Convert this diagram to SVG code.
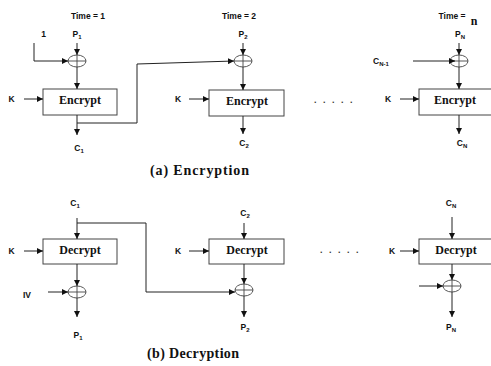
<svg xmlns="http://www.w3.org/2000/svg" width="491" height="366" viewBox="0 0 491 366">
<style>
.ln{fill:none;stroke:#222;stroke-width:1}
.bx{fill:#fff;stroke:#444;stroke-width:1}
.xr{fill:none;stroke:#444;stroke-width:0.9}
.lb{font-family:"Liberation Sans",Arial,sans-serif;font-weight:bold;font-size:8.5px;fill:#111;text-anchor:middle}
.bt{font-family:"Liberation Serif","Times New Roman",serif;font-weight:bold;font-size:12px;fill:#111;text-anchor:middle}
.cap{font-family:"Liberation Serif","Times New Roman",serif;font-weight:bold;font-size:14px;fill:#111}
.dot{font-family:"Liberation Sans",Arial,sans-serif;font-weight:bold;font-size:9px;fill:#333}
.sb{font-size:6px}
</style>
<defs>
<marker id="ah" markerWidth="6" markerHeight="6" refX="6" refY="3" orient="auto" markerUnits="userSpaceOnUse">
<path d="M0,0 L6,3 L0,6 Z" fill="#111"/>
</marker>
<g id="xor"><ellipse cx="0" cy="0" rx="9" ry="6" class="xr"/><line x1="-9" y1="0" x2="9" y2="0" class="xr"/><line x1="0" y1="-6" x2="0" y2="6" class="xr"/></g>
</defs>
<rect width="491" height="366" fill="#fff"/>

<!-- Encryption -->
<g id="time1"><text class="lb" x="88" y="19">Time = 1</text></g>
<g id="time2"><text class="lb" x="239" y="19">Time = 2</text></g>
<g id="timen"><text class="lb" x="452" y="19">Time =</text><text x="474" y="25" font-family="Liberation Serif,serif" font-weight="bold" font-size="12" text-anchor="middle" fill="#111">n</text></g>

<g id="e-in1"><text class="lb" x="43.5" y="37">1</text></g>
<g id="e-p1"><text class="lb" x="77" y="37">P<tspan class="sb" dy="1.5">1</tspan></text></g>
<g id="e-xor1"><use href="#xor" x="77" y="61"/></g>
<g id="e-enc1"><rect class="bx" x="43" y="89" width="74" height="26"/><text class="bt" x="80" y="104">Encrypt</text></g>
<g id="e-k1"><text class="lb" x="11.5" y="102">K</text></g>
<g id="e-c1"><text class="lb" x="79" y="151">C<tspan class="sb" dy="1.5">1</tspan></text></g>

<g id="e-p2"><text class="lb" x="243" y="37">P<tspan class="sb" dy="1.5">2</tspan></text></g>
<g id="e-xor2"><use href="#xor" x="243" y="61"/></g>
<g id="e-enc2"><rect class="bx" x="209" y="90" width="75" height="26"/><text class="bt" x="247" y="105">Encrypt</text></g>
<g id="e-k2"><text class="lb" x="178" y="102">K</text></g>
<g id="e-c2"><text class="lb" x="244" y="146">C<tspan class="sb" dy="1.5">2</tspan></text></g>

<g id="e-dots"><text class="dot" x="314" y="103" letter-spacing="6.5">.....</text></g>

<g id="e-cn1"><text class="lb" x="381" y="64">C<tspan class="sb" dy="1.5">N-1</tspan></text></g>
<g id="e-pn"><text class="lb" x="460" y="37">P<tspan class="sb" dy="1.5">N</tspan></text></g>
<g id="e-xorn"><use href="#xor" x="459" y="61"/></g>
<g id="e-encn"><rect class="bx" x="419" y="89" width="76" height="26"/><text class="bt" x="455" y="104">Encrypt</text></g>
<g id="e-kn"><text class="lb" x="388" y="102">K</text></g>
<g id="e-cn"><text class="lb" x="462" y="146">C<tspan class="sb" dy="1.5">N</tspan></text></g>

<g id="cap-a"><text class="cap" x="150" y="175" textLength="99">(a) Encryption</text></g>

<!-- Decryption -->
<g id="d-c1"><text class="lb" x="75" y="206">C<tspan class="sb" dy="1.5">1</tspan></text></g>
<g id="d-dec1"><rect class="bx" x="43" y="239" width="74" height="25"/><text class="bt" x="80" y="254">Decrypt</text></g>
<g id="d-k1"><text class="lb" x="11.5" y="254">K</text></g>
<g id="d-iv"><text class="lb" x="27" y="298">IV</text></g>
<g id="d-xor1"><use href="#xor" x="77" y="292"/></g>
<g id="d-p1"><text class="lb" x="78" y="338">P<tspan class="sb" dy="1.5">1</tspan></text></g>

<g id="d-c2"><text class="lb" x="245" y="216">C<tspan class="sb" dy="1.5">2</tspan></text></g>
<g id="d-dec2"><rect class="bx" x="209" y="239" width="75" height="25"/><text class="bt" x="247" y="254">Decrypt</text></g>
<g id="d-k2"><text class="lb" x="178" y="254">K</text></g>
<g id="d-xor2"><use href="#xor" x="244" y="290"/></g>
<g id="d-p2"><text class="lb" x="245" y="330">P<tspan class="sb" dy="1.5">2</tspan></text></g>

<g id="d-dots"><text class="dot" x="320" y="253" letter-spacing="6.5">.....</text></g>

<g id="d-cn"><text class="lb" x="451" y="206">C<tspan class="sb" dy="1.5">N</tspan></text></g>
<g id="d-decn"><rect class="bx" x="419" y="239" width="76" height="25"/><text class="bt" x="456" y="254">Decrypt</text></g>
<g id="d-kn"><text class="lb" x="392" y="254">K</text></g>
<g id="d-xorn"><use href="#xor" x="452" y="286"/></g>
<g id="d-pn"><text class="lb" x="451" y="330">P<tspan class="sb" dy="1.5">N</tspan></text></g>

<g id="cap-b"><text class="cap" x="147" y="358" textLength="92">(b) Decryption</text></g>

<g id="connectors">
<!-- encryption col 1 -->
<polyline class="ln" points="34,43 34,61 68,61" marker-end="url(#ah)"/>
<line class="ln" x1="77" y1="43" x2="77" y2="55" marker-end="url(#ah)"/>
<line class="ln" x1="77" y1="67" x2="77" y2="89" marker-end="url(#ah)"/>
<line class="ln" x1="24" y1="99" x2="43" y2="99" marker-end="url(#ah)"/>
<line class="ln" x1="77" y1="115" x2="77" y2="135" marker-end="url(#ah)"/>
<polyline class="ln" points="77,123 137,123 137,64 234,61" marker-end="url(#ah)"/>
<!-- encryption col 2 -->
<line class="ln" x1="243" y1="43" x2="243" y2="55" marker-end="url(#ah)"/>
<line class="ln" x1="243" y1="67" x2="243" y2="90" marker-end="url(#ah)"/>
<line class="ln" x1="189" y1="99" x2="209" y2="99" marker-end="url(#ah)"/>
<line class="ln" x1="243" y1="116" x2="243" y2="134" marker-end="url(#ah)"/>
<!-- encryption col N -->
<line class="ln" x1="459" y1="43" x2="459" y2="55" marker-end="url(#ah)"/>
<line class="ln" x1="413" y1="61" x2="455" y2="61" marker-end="url(#ah)"/>
<line class="ln" x1="459" y1="67" x2="459" y2="89" marker-end="url(#ah)"/>
<line class="ln" x1="400" y1="99" x2="419" y2="99" marker-end="url(#ah)"/>
<line class="ln" x1="459" y1="115" x2="459" y2="134" marker-end="url(#ah)"/>
<!-- decryption col 1 -->
<line class="ln" x1="77" y1="218" x2="77" y2="239" marker-end="url(#ah)"/>
<line class="ln" x1="24" y1="251" x2="43" y2="251" marker-end="url(#ah)"/>
<line class="ln" x1="77" y1="264" x2="77" y2="286" marker-end="url(#ah)"/>
<line class="ln" x1="48" y1="292" x2="68" y2="292" marker-end="url(#ah)"/>
<line class="ln" x1="77" y1="298" x2="77" y2="317" marker-end="url(#ah)"/>
<polyline class="ln" points="77,223 146,223 146,292 235,292" marker-end="url(#ah)"/>
<!-- decryption col 2 -->
<line class="ln" x1="244" y1="223" x2="244" y2="239" marker-end="url(#ah)"/>
<line class="ln" x1="189" y1="251" x2="209" y2="251" marker-end="url(#ah)"/>
<line class="ln" x1="244" y1="264" x2="244" y2="284" marker-end="url(#ah)"/>
<line class="ln" x1="244" y1="296" x2="244" y2="317" marker-end="url(#ah)"/>
<!-- decryption col N -->
<line class="ln" x1="452" y1="217" x2="452" y2="239" marker-end="url(#ah)"/>
<line class="ln" x1="400" y1="251" x2="419" y2="251" marker-end="url(#ah)"/>
<line class="ln" x1="452" y1="264" x2="452" y2="280" marker-end="url(#ah)"/>
<line class="ln" x1="419" y1="286" x2="443" y2="286" marker-end="url(#ah)"/>
<line class="ln" x1="452" y1="292" x2="452" y2="317" marker-end="url(#ah)"/>
</g>
</svg>
